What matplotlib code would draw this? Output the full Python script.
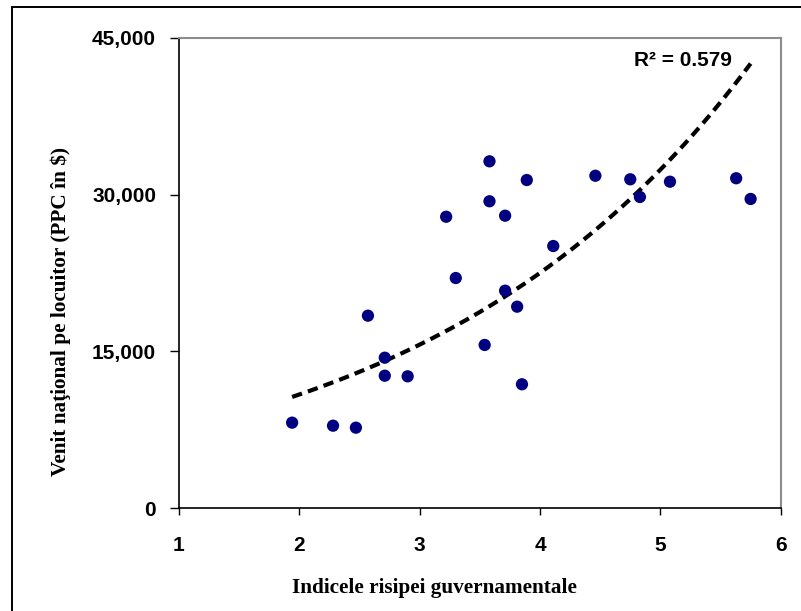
import numpy as np
import matplotlib
matplotlib.use("Agg")
import matplotlib.pyplot as plt
from matplotlib.patches import Rectangle
from matplotlib.ticker import FuncFormatter

# Government waste index vs. national income per capita (PPP, $)
waste_index = [1.94, 2.28, 2.47, 2.57, 2.71, 2.71, 2.90, 3.22, 3.30, 3.58, 3.58, 3.71,
               3.89, 3.54, 3.71, 3.81, 3.85, 4.11, 4.46, 4.75, 4.83, 5.08, 5.63, 5.75]
income_ppp = [8190, 7900, 7710, 18420, 14400, 12680, 12620, 27880, 22020, 33180, 29360, 27980,
              31390, 15620, 20810, 19280, 11860, 25080, 31800, 31460, 29770, 31230, 31560, 29580]
x_ticks = [1, 2, 3, 4, 5, 6]
y_ticks = [0, 15000, 30000, 45000]
r2_label = "R² = 0.579"

x = np.array(waste_index)
y = np.array(income_ppp)

# exponential trend line, fitted in log space
b, ln_a = np.polyfit(x, np.log(y), 1)
xt = np.linspace(x.min(), x.max(), 200)
yt = np.exp(ln_a) * np.exp(b * xt)

plt.rcParams['lines.scale_dashes'] = False

W, H = 801, 611
fig = plt.figure(figsize=(W / 100, H / 100), dpi=100)
ax = fig.add_axes([179 / W, 1 - 508.3 / H, (780.7 - 179) / W, (508.3 - 37.7) / H])

ax.plot(xt, yt, color='black', lw=3.0, dashes=(7.5, 4.5), zorder=2)
ax.scatter(x, y, s=78, color='#000080', edgecolors='none', zorder=3)

ax.set_xlim(1, 6)
ax.set_ylim(0, 45000)
ax.set_xticks(x_ticks)
ax.set_yticks(y_ticks)
ax.yaxis.set_major_formatter(FuncFormatter(lambda v, p: f"{int(v):,}"))

tick_font = dict(family='Liberation Sans', weight='bold', size=15)
for lab in ax.get_xticklabels() + ax.get_yticklabels():
    lab.set_fontproperties(matplotlib.font_manager.FontProperties(**tick_font))

ax.tick_params(axis='y', direction='out', length=6.5, width=1, pad=10, colors='black')
ax.tick_params(axis='x', direction='out', length=5, width=1, pad=15, colors='black')

for side in ('left', 'bottom'):
    ax.spines[side].set_color('black')
    ax.spines[side].set_linewidth(1.2)
for side in ('top', 'right'):
    ax.spines[side].set_color('#8c8c8c')
    ax.spines[side].set_linewidth(1.5)

label_font = dict(family='Liberation Serif', weight='bold', size=15.3)
fig.text(434.7 / W, 1 - 588 / H, "Indicele risipei guvernamentale",
         ha='center', va='center', **label_font)
fig.text(61 / W, 1 - 312 / H, "Venit naţional pe locuitor (PPC în $)",
         ha='center', va='center', rotation=90, **label_font)

ax.text(0.919, 0.952, r2_label, transform=ax.transAxes, ha='right', va='center',
        family='Liberation Sans', weight='bold', size=15)

# outer chart frame
fig.patches.append(Rectangle((11.5 / W, -0.2), 1.5, 1.2 - 6.5 / H, transform=fig.transFigure,
                             fill=False, edgecolor='black', lw=1.4, clip_on=False))

fig.savefig("out.png", dpi=100)
